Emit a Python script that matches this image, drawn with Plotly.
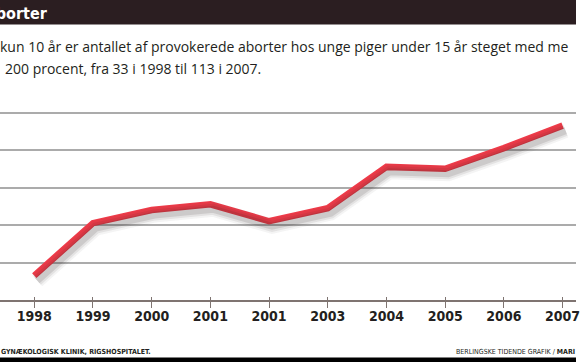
import plotly.graph_objects as go

# ---- data ----
years = ["1998", "1999", "2000", "2001", "2001", "2003", "2004", "2005", "2006", "2007"]
abortions = [33, 61, 68, 71, 62, 69, 91, 90, 101, 113]
y_gridlines = [20, 40, 60, 80, 100, 120]

title_text = "aborter"
subtitle_line1 = "kun 10 år er antallet af provokerede aborter hos unge piger under 15 år steget med me"
subtitle_line2 = "200 procent, fra 33 i 1998 til 113 i 2007."
source_left = "GYNÆKOLOGISK KLINIK, RIGSHOSPITALET."
source_right = "BERLINGSKE TIDENDE GRAFIK / <b>MARI</b>"

# ---- layout geometry ----
W, H = 580, 362
PLOT_TOP, PLOT_BOTTOM = 90, 300
x_idx = list(range(len(years)))
px_per_x = (566.5 - 34.5) / (len(years) - 1)
x_range = [-34.5 / px_per_x, (len(years) - 1) + (W - 566.5) / px_per_x]
px_per_y = 1.875
y_range = [20, 20 + (PLOT_BOTTOM - PLOT_TOP) / px_per_y]


def py(p):
    """pixel row -> paper y"""
    return (PLOT_BOTTOM - p) / (PLOT_BOTTOM - PLOT_TOP)


def px(p):
    return p / W


cond = "Liberation Sans Narrow, DejaVu Sans Condensed, Arial Narrow, sans-serif"
body = "Open Sans, Noto Sans, sans-serif"
line_col = "#ee3b49"
axis_col = "#7f7471"
dark = "#231f20"

fig = go.Figure()

# shadow layers (on shifted overlay axes)
sdx, sdy = 3 / px_per_x, 5 / px_per_y
for w, a in [(15, 0.05), (11, 0.08), (7, 0.12)]:
    fig.add_trace(go.Scatter(x=x_idx, y=abortions, mode="lines", xaxis="x2", yaxis="y2",
                             line=dict(color=f"rgba(40,30,30,{a})", width=w),
                             hoverinfo="skip", showlegend=False))

# main line
fig.add_trace(go.Scatter(x=x_idx, y=abortions, mode="lines",
                         line=dict(color=line_col, width=6.5),
                         showlegend=False))
# helper trace for the upper part of the ticks
fig.add_trace(go.Scatter(x=x_idx, y=abortions, mode="lines", xaxis="x3",
                         line=dict(width=0), opacity=0, hoverinfo="skip", showlegend=False))

shapes = [
    dict(type="rect", xref="paper", yref="paper", x0=0, x1=1, y0=py(24.5), y1=py(0),
         fillcolor="#2b1e21", line=dict(width=0), layer="above"),
    dict(type="rect", xref="paper", yref="paper", x0=0, x1=1, y0=py(362), y1=py(357.5),
         fillcolor="#000000", line=dict(width=0), layer="above"),
]

annotations = [
    dict(text=f"<b>{title_text}</b>", xref="paper", yref="paper", x=px(50), y=py(13.5),
         xanchor="right", yanchor="middle", showarrow=False,
         font=dict(family=cond, size=16, color="white")),
    dict(text=subtitle_line1, xref="paper", yref="paper", x=px(-2), y=py(46),
         xanchor="left", yanchor="middle", showarrow=False,
         font=dict(family=body, size=14, color=dark)),
    dict(text=subtitle_line2, xref="paper", yref="paper", x=px(3), y=py(69),
         xanchor="left", yanchor="middle", showarrow=False,
         font=dict(family=body, size=14, color=dark)),
    dict(text=f"<b>{source_left}</b>", xref="paper", yref="paper", x=px(-1), y=py(352),
         xanchor="left", yanchor="middle", showarrow=False,
         font=dict(family=cond, size=7, color=dark)),
    dict(text=source_right, xref="paper", yref="paper", x=px(581), y=py(352),
         xanchor="right", yanchor="middle", showarrow=False,
         font=dict(family=cond, size=7, color=dark)),
]

fig.update_layout(
    width=W, height=H,
    margin=dict(l=0, r=0, t=PLOT_TOP, b=H - PLOT_BOTTOM, pad=0),
    paper_bgcolor="white", plot_bgcolor="white",
    showlegend=False,
    shapes=shapes, annotations=annotations,
    xaxis=dict(range=x_range, tickmode="array", tickvals=x_idx, ticktext=years,
               showgrid=False, zeroline=False, showline=True, linecolor=axis_col, linewidth=1.5,
               ticks="outside", ticklen=6, tickwidth=1, tickcolor=axis_col,
               tickfont=dict(family=cond, size=14, color=dark, weight="bold"),
               ticklabelstandoff=-4, ticklabeloverflow="allow", fixedrange=True),
    yaxis=dict(range=y_range, tickmode="array", tickvals=y_gridlines, showticklabels=False,
               showgrid=True, gridcolor="#ababab", gridwidth=1.5, zeroline=False,
               showline=False, ticks="", fixedrange=True),
    xaxis2=dict(range=[x_range[0] - sdx, x_range[1] - sdx], overlaying="x", visible=False),
    yaxis2=dict(range=[y_range[0] + sdy, y_range[1] + sdy], overlaying="y", visible=False),
    xaxis3=dict(range=x_range, overlaying="x", tickmode="array", tickvals=x_idx,
                showticklabels=False, ticks="inside", ticklen=3, tickwidth=1, tickcolor=axis_col,
                showgrid=False, zeroline=False, showline=False),
)

fig.write_html(
    "out.html",
    config={"displayModeBar": False, "responsive": False},
    post_script="document.body.style.margin='0';document.body.style.overflow='hidden';",
)
